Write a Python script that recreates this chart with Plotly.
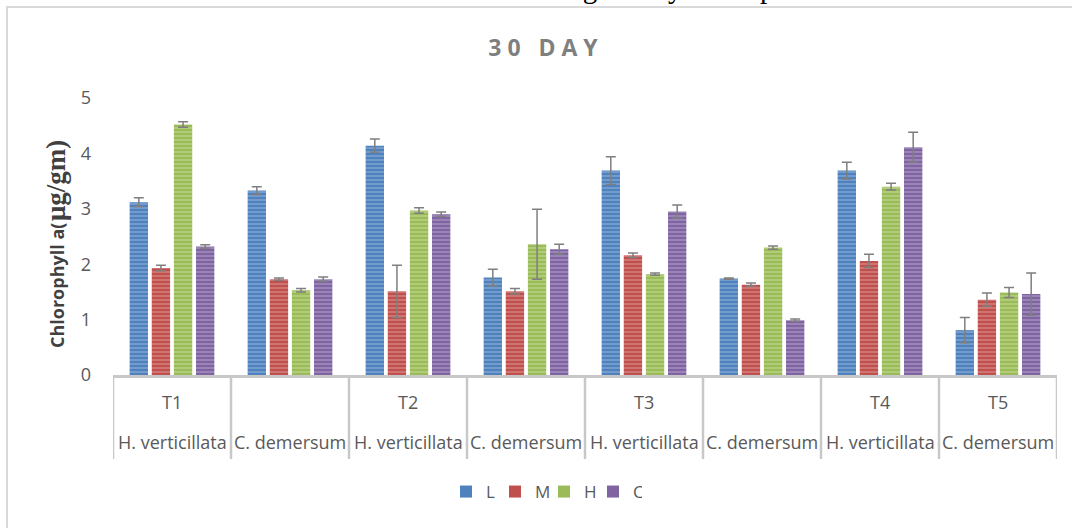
import plotly.graph_objects as go

# ---- data ----
treatments = ["T1", "", "T2", "", "T3", "", "T4", "T5"]
species = ["H. verticillata", "C. demersum", "H. verticillata", "C. demersum",
           "H. verticillata", "C. demersum", "H. verticillata", "C. demersum"]
L_vals = [3.12, 3.33, 4.14, 1.76, 3.69, 1.74, 3.69, 0.81]
L_err = [0.08, 0.07, 0.12, 0.15, 0.25, 0.01, 0.15, 0.23]
M_vals = [1.93, 1.73, 1.51, 1.51, 2.16, 1.63, 2.06, 1.36]
M_err = [0.05, 0.02, 0.47, 0.05, 0.04, 0.03, 0.12, 0.12]
H_vals = [4.52, 1.53, 2.97, 2.36, 1.82, 2.30, 3.40, 1.49]
H_err = [0.05, 0.03, 0.05, 0.63, 0.02, 0.03, 0.06, 0.09]
C_vals = [2.32, 1.73, 2.90, 2.27, 2.95, 0.99, 4.11, 1.46]
C_err = [0.03, 0.04, 0.04, 0.09, 0.12, 0.02, 0.27, 0.38]
y_ticks = [0, 1, 2, 3, 4, 5]

series = [
    ("L", L_vals, L_err, "#4f81bd", "#9dbbe3"),
    ("M", M_vals, M_err, "#c0504d", "#e3a09e"),
    ("H", H_vals, H_err, "#9bbb59", "#cbe09e"),
    ("C", C_vals, C_err, "#8064a2", "#b9a8d0"),
]

x_idx = list(range(len(species)))
FONT = "Open Sans, Liberation Sans, sans-serif"
TXT = "#595959"

# plot area in page pixels
PL, PR, PT, PB = 113, 1057, 98, 375
W, H = 1072, 528


def px(x):
    return (x - PL) / (PR - PL)


def py(y):
    return (PB - y) / (PB - PT)


fig = go.Figure()
for name, vals, err, base, light in series:
    fig.add_trace(go.Bar(
        name=name, x=x_idx, y=vals, showlegend=False,
        marker=dict(color=base, line=dict(width=0),
                    pattern=dict(shape="-", fgcolor=light, bgcolor=base,
                                 size=4, solidity=0.45, fillmode="overlay")),
        error_y=dict(type="data", array=err, visible=True,
                     color="#7f7f7f", thickness=1.5, width=5),
    ))
    # legend swatch
    fig.add_trace(go.Scatter(
        name=name, x=[None], y=[None], mode="markers",
        marker=dict(symbol="square", size=12, color=base,
                    line=dict(color=light, width=0)),
    ))

# axis table lines and labels
shapes = []
line_col = "#c8c8c8"
for b in range(len(species) + 1):
    shapes.append(dict(type="line", xref="x", yref="paper",
                       x0=b - 0.5, x1=b - 0.5, y0=0, y1=py(459),
                       line=dict(color=line_col, width=2.5)))
# chart border
shapes.append(dict(type="rect", xref="paper", yref="paper",
                   x0=px(7), x1=px(1200), y0=py(700), y1=py(7),
                   line=dict(color="#d9d9d9", width=2), layer="below"))

annotations = []
for i, (t, s) in enumerate(zip(treatments, species)):
    if t:
        annotations.append(dict(x=i, y=py(402), xref="x", yref="paper",
                                text=t, showarrow=False,
                                xanchor="center", yanchor="middle",
                                font=dict(family=FONT, size=18, color=TXT)))
    annotations.append(dict(x=i, y=py(442), xref="x", yref="paper",
                            text=s, showarrow=False,
                            xanchor="center", yanchor="middle",
                            font=dict(family=FONT, size=18, color=TXT)))

# y-axis title (sans part + serif part)
annotations.append(dict(
    x=px(57), y=py(286), xref="paper", yref="paper",
    xanchor="center", yanchor="middle",
    textangle=-90, showarrow=False,
    text="<b>Chlorophyll a(</b>",
    font=dict(family=FONT, size=18, color="#404040")))
annotations.append(dict(
    x=px(56), y=py(181), xref="paper", yref="paper",
    xanchor="center", yanchor="middle",
    textangle=-90, showarrow=False,
    text="<b>μg/gm)</b>",
    font=dict(family="Liberation Serif", size=27, color="#404040")))

# clipped caption above chart
annotations.append(dict(
    x=px(203), xanchor="left", y=py(6), yanchor="bottom",
    xref="paper", yref="paper", showarrow=False,
    text="concentrations of nutrients during 30 days of experimental",
    font=dict(family="Liberation Serif", size=29, color="#000000")))

fig.update_layout(
    width=W, height=H,
    margin=dict(l=PL, r=W - PR, t=PT, b=H - PB, autoexpand=False),
    paper_bgcolor="white", plot_bgcolor="white",
    barmode="group", bargap=0.25, bargroupgap=0.17,
    title=dict(text="<b>3 0\u00a0\u00a0 D A Y</b>", x=543 / W, xanchor="center",
               y=1 - 48 / H, yanchor="middle",
               font=dict(family=FONT, size=23, color="#7f7f7f")),
    xaxis=dict(range=[-0.5, 7.5], showticklabels=False, showgrid=False,
               zeroline=False, showline=True, linecolor=line_col, linewidth=2.5,
               ticks="", automargin=False),
    yaxis=dict(range=[0, 5], tickvals=y_ticks, showgrid=False, zeroline=False,
               showline=False, ticks="", ticklabelstandoff=21, automargin=False,
               tickfont=dict(family=FONT, size=18, color=TXT)),
    legend=dict(orientation="h", x=px(544), xanchor="center",
                y=py(492), yanchor="middle",
                font=dict(family=FONT, size=17, color=TXT),
                itemwidth=30, entrywidth=4, entrywidthmode="pixels",
                traceorder="normal"),
    shapes=shapes, annotations=annotations,
    showlegend=True,
)

fig.write_html("out.html", config={"displayModeBar": False},
               post_script="document.body.style.margin='0px';")
